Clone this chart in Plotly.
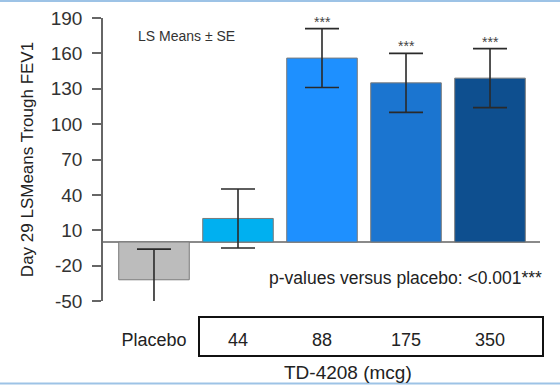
import plotly.graph_objects as go

categories = ["Placebo", "44", "88", "175", "350"]
means = [-32, 20, 156, 135, 139]
se = [26, 25, 25, 25, 25]
bar_colors = ["#bcbcbc", "#00b0f0", "#1e90ff", "#1b75d0", "#0e4f8f"]
stars = ["", "", "***", "***", "***"]
y_ticks = [-50, -20, 10, 40, 70, 100, 130, 160, 190]
y_tick_text = ["-50", "-20", "10", "40", "70", "100", "130", "160", "190"]

W, H = 560, 385
L, R, T, B = 103, 20, 18, 84
pw, ph = W - L - R, H - T - B

def px(x):
    return (x - L) / pw

def py(y):
    return (H - B - y) / ph

FONT = "Liberation Sans, Arial, sans-serif"

fig = go.Figure()
fig.add_trace(go.Bar(
    x=categories, y=means,
    marker=dict(color=bar_colors, line=dict(color="#7a7a7a", width=1)),
    error_y=dict(type="data", array=se, visible=True, color="#2a2a2a",
                 thickness=1.6, width=17),
    width=0.84,
    showlegend=False,
    hoverinfo="skip",
))

for i, (m, s, st) in enumerate(zip(means, se, stars)):
    if st:
        fig.add_annotation(x=i, y=m + s, xref="x", yref="y", text=st,
                           showarrow=False, yshift=7, yanchor="middle",
                           xanchor="center",
                           font=dict(family=FONT, size=14, color="#444444"))

fig.add_annotation(x=px(186), y=py(36), xref="paper", yref="paper",
                   xanchor="center", yanchor="middle",
                   text="LS Means ± SE", showarrow=False,
                   font=dict(family=FONT, size=14, color="#333333"))
fig.add_annotation(x=px(267), y=py(278), xref="paper", yref="paper",
                   xanchor="left", yanchor="middle",
                   text="p-values versus placebo: <0.001***",
                   showarrow=False,
                   font=dict(family=FONT, size=17.5, color="#222222"))
fig.add_annotation(x=px(348), y=py(372), xref="paper", yref="paper",
                   xanchor="center", yanchor="middle",
                   text="TD-4208 (mcg)", showarrow=False,
                   font=dict(family=FONT, size=19, color="#222222"))

# box around dose labels
fig.add_shape(type="rect", xref="paper", yref="paper",
              x0=px(199), x1=px(543), y0=py(356), y1=py(317),
              line=dict(color="#111111", width=2))
# light blue frame lines
fig.add_shape(type="line", xref="paper", yref="paper",
              x0=px(0), x1=px(560), y0=py(1), y1=py(1),
              line=dict(color="#9dc3e6", width=2))
fig.add_shape(type="line", xref="paper", yref="paper",
              x0=px(0), x1=px(560), y0=py(383.5), y1=py(383.5),
              line=dict(color="#9dc3e6", width=2))

fig.update_layout(
    width=W, height=H,
    margin=dict(l=L, r=R, t=T, b=B, pad=0, autoexpand=False),
    paper_bgcolor="white", plot_bgcolor="white",
    font=dict(family=FONT, color="#222222"),
    bargap=0.16,
    xaxis=dict(
        type="category", range=[-0.607, 4.595], automargin=False,
        showline=False, showgrid=False, zeroline=False,
        ticks="", ticklabelstandoff=26,
        tickfont=dict(family=FONT, size=18, color="#222222"),
    ),
    yaxis=dict(
        range=[-50, 190], tickvals=y_ticks, ticktext=y_tick_text,
        automargin=False,
        showline=True, linecolor="#666666", linewidth=1.5,
        ticks="outside", ticklen=9, tickcolor="#666666", tickwidth=1.5,
        ticklabelstandoff=6,
        showgrid=False,
        zeroline=True, zerolinecolor="#8a8a8a", zerolinewidth=1.5,
        tickfont=dict(family=FONT, size=19, color="#333333"),
        title=dict(text="Day 29 LSMeans Trough FEV1", standoff=13,
                   font=dict(family=FONT, size=17, color="#222222")),
    ),
)

fig.write_html("out.html", config={"displayModeBar": False},
               post_script="document.body.style.margin='0';document.body.style.overflow='hidden';")
